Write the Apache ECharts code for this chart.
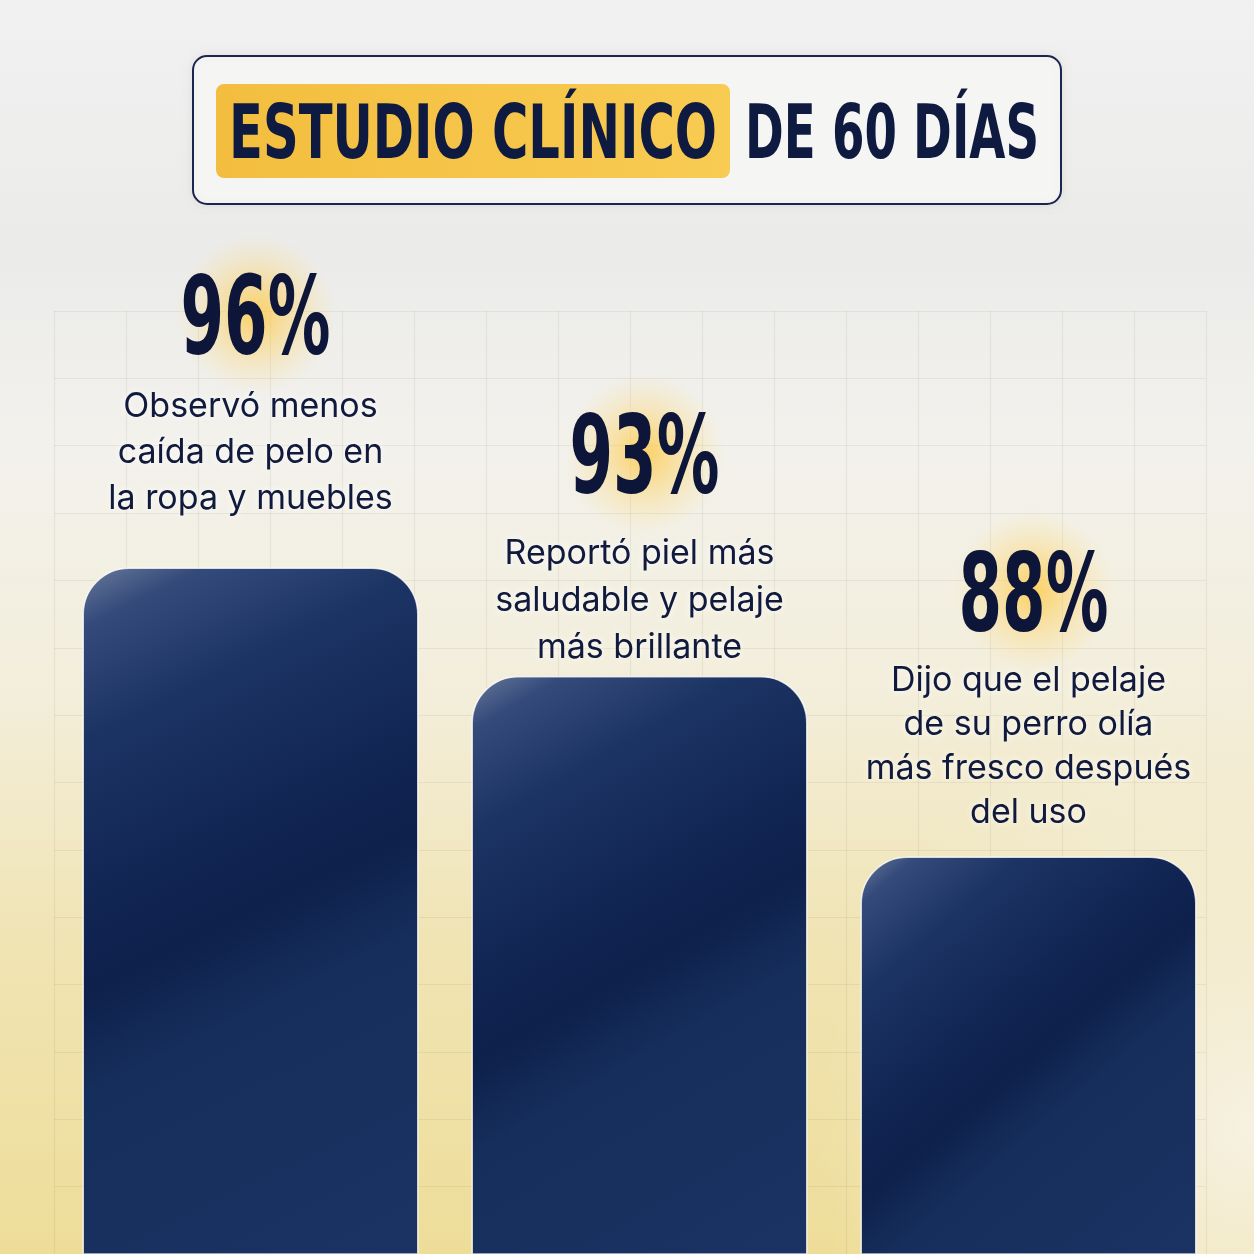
<!DOCTYPE html>
<html>
<head>
<meta charset="utf-8">
<script src="https://cdn.jsdelivr.net/npm/echarts@6/dist/echarts.min.js"></script>
<style>html,body{margin:0;padding:0;}#c{width:1254px;height:1254px;}</style>
</head>
<body>
<div id="c"></div>
<script>
// ---- data ----
const titleHighlight = 'ESTUDIO CLÍNICO';
const titleRest = 'DE 60 DÍAS';
const categories = ['Pelo en ropa', 'Piel y pelaje', 'Olor del pelaje'];
const values = [96, 93, 88];
const valueLabels = ['96%', '93%', '88%'];
const descriptions = [
  ['Observó menos', 'caída de pelo en', 'la ropa y muebles'],
  ['Reportó piel más', 'saludable y pelaje', 'más brillante'],
  ['Dijo que el pelaje', 'de su perro olía', 'más fresco después', 'del uso']
];

const chart = echarts.init(document.getElementById('c'), null, {renderer: 'canvas'});

const condFont = "'DejaVu Sans Condensed','Liberation Sans Narrow',sans-serif";
function measure(txt, font) {
  const cv = document.createElement('canvas').getContext('2d');
  cv.font = font;
  return cv.measureText(txt).width;
}
const tFont = 'bold 74px ' + condFont;
const sx1 = 488 / measure(titleHighlight, tFont);
const sx2 = 294 / measure(titleRest, tFont);
const pFont = 'bold 108px ' + condFont;

// label styling (per bar label spacing)
const labelDist = [46, 5, 22];
const labelLH = [46, 47, 44];
const pctGap = [93, 100, 90];

const barGradient = {
  type: 'linear', x: 0, y: 0, x2: 1, y2: 1,
  colorStops: [
    {offset: 0, color: '#6a7a9c'},
    {offset: 0.07, color: '#344a7a'},
    {offset: 0.2, color: '#1c3464'},
    {offset: 0.4, color: '#112553'},
    {offset: 0.5, color: '#0e204c'},
    {offset: 0.62, color: '#162e5c'},
    {offset: 1, color: '#1a3362'}
  ]
};

const baseGraphic = [
  {
    id: 'bgglow', type: 'rect', z: -5, silent: true,
    shape: {x: 0, y: 0, width: 1254, height: 1254},
    style: {fill: {type: 'radial', x: 1, y: 0.9, r: 0.35,
      colorStops: [{offset: 0, color: 'rgba(247,244,236,0.85)'}, {offset: 1, color: 'rgba(247,244,236,0)'}]}}
  },
  {
    id: 'tbox', type: 'rect', z: 10,
    shape: {x: 193, y: 56, width: 868, height: 148, r: 14},
    style: {fill: '#f5f5f4', stroke: '#1c2452', lineWidth: 2, shadowBlur: 10, shadowColor: 'rgba(0,0,0,0.06)'}
  },
  {
    id: 'thl', type: 'rect', z: 11,
    shape: {x: 216, y: 84, width: 514, height: 94, r: 8},
    style: {fill: {type: 'linear', x: 0, y: 0, x2: 1, y2: 0,
      colorStops: [{offset: 0, color: '#f3be3f'}, {offset: 1, color: '#f8cb52'}]}}
  },
  {
    id: 't1', type: 'text', z: 12, x: 229, y: 139, scaleX: sx1,
    style: {text: titleHighlight, font: tFont, fill: '#0e1a3f', verticalAlign: 'middle', align: 'left'}
  },
  {
    id: 't2', type: 'text', z: 12, x: 745, y: 139, scaleX: sx2,
    style: {text: titleRest, font: tFont, fill: '#0e1a3f', verticalAlign: 'middle', align: 'left'}
  }
];

chart.setOption({
  backgroundColor: {
    type: 'linear', x: 0, y: 0, x2: 0, y2: 1,
    colorStops: [
      {offset: 0, color: '#f1f1f1'},
      {offset: 0.2, color: '#ebebea'},
      {offset: 0.35, color: '#f2f1ec'},
      {offset: 0.55, color: '#f3eedb'},
      {offset: 0.75, color: '#f0e4b4'},
      {offset: 1, color: '#eedd99'}
    ]
  },
  animation: false,
  graphic: baseGraphic,
  grid: [
    {left: 56, right: 31, top: 423, bottom: 0},
    {left: 54, top: 311, width: 1152, height: 1008}
  ],
  xAxis: [
    {type: 'category', data: categories, gridIndex: 0,
      axisLine: {show: false}, axisTick: {show: false}, axisLabel: {show: false}},
    {type: 'value', gridIndex: 1, min: 0, max: 16, interval: 1,
      axisLine: {show: false}, axisTick: {show: false}, axisLabel: {show: false},
      splitLine: {show: true, lineStyle: {color: 'rgba(130,120,90,0.11)', width: 1.2}}}
  ],
  yAxis: [
    {type: 'value', gridIndex: 0, min: 77, max: 100,
      axisLine: {show: false}, axisTick: {show: false}, axisLabel: {show: false}, splitLine: {show: false}},
    {type: 'value', gridIndex: 1, min: 0, max: 14, interval: 1, inverse: true,
      axisLine: {show: false}, axisTick: {show: false}, axisLabel: {show: false},
      splitLine: {show: true, lineStyle: {color: 'rgba(130,120,90,0.11)', width: 1.2}}}
  ],
  series: [{
    type: 'bar',
    xAxisIndex: 0, yAxisIndex: 0,
    data: values.map(function (v, i) {
      return {value: v, label: {distance: labelDist[i], rich: {d: {lineHeight: labelLH[i]}}}};
    }),
    barWidth: 336,
    z: 5,
    itemStyle: {
      color: barGradient,
      borderRadius: [46, 46, 0, 0],
      borderColor: 'rgba(255,255,255,0.75)',
      borderWidth: 1.5
    },
    label: {
      show: true,
      position: 'top',
      align: 'center',
      formatter: function (p) {
        return descriptions[p.dataIndex].map(function (l) { return '{d|' + l + '}'; }).join('\n');
      },
      rich: {
        d: {
          fontFamily: "Inter, 'Noto Sans', sans-serif", fontSize: 34, lineHeight: 46,
          color: '#111a3c', align: 'center',
          textShadowColor: 'rgba(255,255,255,0.9)', textShadowBlur: 6
        }
      }
    }
  }]
});

// percentage headlines placed from the bar scale (convertToPixel)
const extra = [];
values.forEach(function (v, i) {
  const pt = chart.convertToPixel({seriesIndex: 0}, [i, v]);
  const n = descriptions[i].length;
  const firstLineCenter = pt[1] - labelDist[i] - n * labelLH[i] + labelLH[i] / 2;
  const cy = firstLineCenter - pctGap[i];
  const sx = 150 / measure(valueLabels[i], pFont);
  extra.push({
    id: 'glow' + i, type: 'ellipse', z: 6, silent: true,
    shape: {cx: pt[0] + 5, cy: cy, rx: 145, ry: 80},
    style: {fill: {type: 'radial', x: 0.5, y: 0.5, r: 0.5,
      colorStops: [
        {offset: 0, color: 'rgba(255,198,55,0.75)'},
        {offset: 0.45, color: 'rgba(255,205,80,0.4)'},
        {offset: 1, color: 'rgba(255,220,120,0)'}
      ]}}
  });
  extra.push({
    id: 'pct' + i, type: 'text', z: 7, x: pt[0] + 5, y: cy + 11, scaleX: sx,
    style: {text: valueLabels[i], font: pFont, fill: '#0d1638', align: 'center', verticalAlign: 'middle',
      shadowColor: 'rgba(255,190,40,0.9)', shadowBlur: 30}
  });
});
chart.setOption({graphic: baseGraphic.concat(extra)});
</script>
</body>
</html>
